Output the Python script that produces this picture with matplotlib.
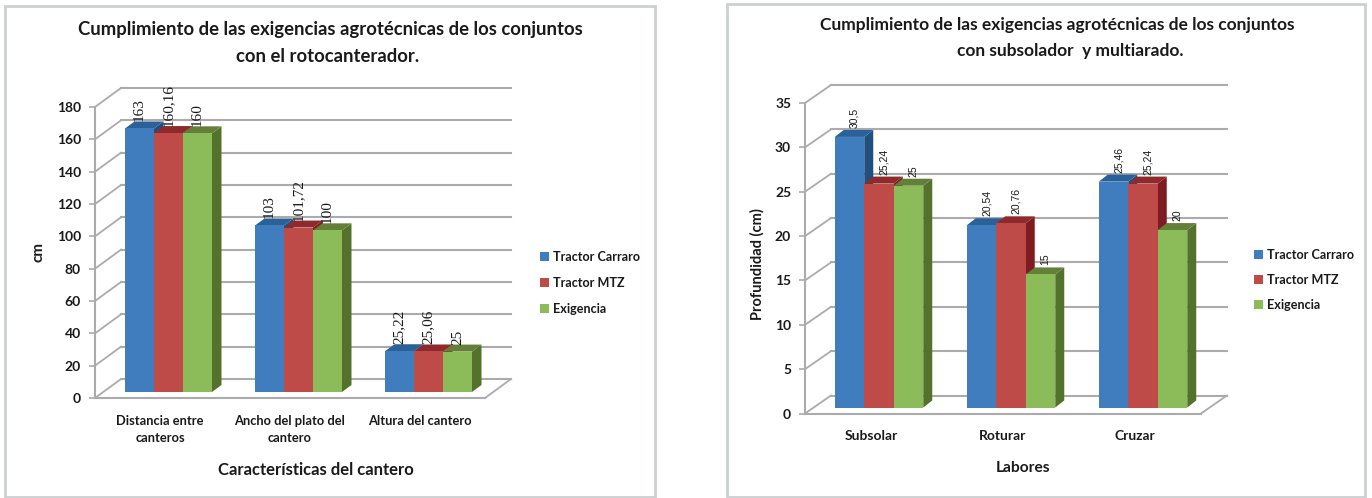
import matplotlib
matplotlib.use("Agg")
import matplotlib.pyplot as plt
from matplotlib.patches import Polygon, Rectangle

W, H = 1372, 498

series_names = ["Tractor Carraro", "Tractor MTZ", "Exigencia"]

left_categories = ["Distancia entre\ncanteros", "Ancho del plato del\ncantero", "Altura del cantero"]
left_carraro = [163, 103, 25.22]
left_mtz = [160.16, 101.72, 25.06]
left_exigencia = [160, 100, 25]
left_ticks = [0, 20, 40, 60, 80, 100, 120, 140, 160, 180]

right_categories = ["Subsolar", "Roturar", "Cruzar"]
right_carraro = [30.5, 20.54, 25.46]
right_mtz = [25.24, 20.76, 25.24]
right_exigencia = [25, 15, 20]
right_ticks = [0, 5, 10, 15, 20, 25, 30, 35]

front_colors = ["#407DBF", "#BF4B48", "#8CBB59"]
side_colors = ["#1F5080", "#7E1C22", "#55722D"]
top_colors = ["#2A6199", "#8E2A2C", "#648038"]
GRID = "#ABABAB"
TEXT = "#1A1A1A"
FONT = "Lato"

fig = plt.figure(figsize=(W / 100, H / 100), dpi=100, facecolor="white")


def panel(x0, y0, x1, y1):
    fig.add_artist(Rectangle((x0 / W, 1 - y1 / H), (x1 - x0) / W, (y1 - y0) / H,
                             transform=fig.transFigure, fill=False,
                             edgecolor="#CDD0D0", linewidth=2.0))


def fig_text(x, y, s, **kw):
    fig.text(x / W, 1 - y / H, s, ha="center", va="center", family=FONT,
             color=TEXT, **kw)


def chart(box, ymax, ticks, categories, series, wall, shift, depth, bar_w,
          label_font, label_size, label_dx, label_dy, cat_size, cat_pad,
          legend_xy, legend_gap, xlabel, xlabel_xy, xlabel_size,
          ylabel, ylabel_xy, ylabel_size):
    x0, y_top, x1, y0 = box
    ax = fig.add_axes([x0 / W, 1 - y0 / H, (x1 - x0) / W, (y0 - y_top) / H])
    ax.set_xlim(-0.5, 2.5)
    ax.set_ylim(0, ymax)
    ax.patch.set_alpha(0)
    px = 3 / (x1 - x0)
    py = ymax / (y0 - y_top)
    wx, wy = wall[0] * px, wall[1] * py
    dx, dy = depth[0] * px, depth[1] * py
    sx, sy = shift[0] * px, shift[1] * py
    w = bar_w * px

    # back wall, floor and their connecting lines
    for t in ticks:
        ax.plot([-0.5, -0.5 + wx], [t, t + wy], color=GRID, lw=1.3, clip_on=False, zorder=1)
        ax.plot([-0.5 + wx, 2.5 + wx], [t + wy, t + wy], color=GRID, lw=1.5, clip_on=False, zorder=1)
    ax.plot([2.5, 2.5 + wx], [0, wy], color=GRID, lw=1.3, clip_on=False, zorder=1)

    handles = []
    for s, values in enumerate(series):
        for c, v in enumerate(values):
            left = c - 1.5 * w + s * w + sx
            right = left + w
            top = sy + v
            z = 3 + s + c * 0.01
            ax.add_patch(Polygon([(right, sy), (right + dx, sy + dy), (right + dx, top + dy), (right, top)],
                                 facecolor=side_colors[s], edgecolor="none", clip_on=False, zorder=z))
            ax.add_patch(Polygon([(left, top), (left + dx, top + dy), (right + dx, top + dy), (right, top)],
                                 facecolor=top_colors[s], edgecolor="none", clip_on=False, zorder=z))
        centers = [c - 1.5 * w + s * w + sx + w / 2 for c in range(3)]
        bars = ax.bar(centers, values, width=w, bottom=sy, color=front_colors[s],
                      label=series_names[s], clip_on=False, zorder=3.5 + s)
        handles.append(bars[0])
    for s, values in enumerate(series):
        for c, v in enumerate(values):
            xc = c - 1.5 * w + s * w + sx + w / 2 + label_dx * px
            ax.text(xc, sy + v + label_dy * py, f"{v:g}".replace(".", ","), rotation=90,
                    ha="center", va="bottom", family=label_font, fontsize=label_size,
                    color=TEXT, zorder=10, clip_on=False)

    for name in ("top", "right"):
        ax.spines[name].set_visible(False)
    for name in ("left", "bottom"):
        ax.spines[name].set_color(GRID)
        ax.spines[name].set_linewidth(1.5)
    ax.set_yticks(ticks)
    ax.set_xticks(range(3))
    ax.set_xticklabels(categories, family=FONT, fontsize=cat_size, fontweight="bold", color=TEXT, linespacing=1.5)
    ax.set_yticklabels([str(t) for t in ticks], family=FONT, fontsize=10, fontweight="bold", color=TEXT)
    ax.tick_params(axis="x", length=0, pad=cat_pad)
    ax.tick_params(axis="y", length=4, width=1.2, color=GRID, pad=6)

    ax.set_xlabel(xlabel, family=FONT, fontsize=xlabel_size, fontweight="bold", color=TEXT, va="center")
    ax.xaxis.set_label_coords((xlabel_xy[0] - x0) / (x1 - x0), (y0 - xlabel_xy[1]) / (y0 - y_top))
    ax.set_ylabel(ylabel, family=FONT, fontsize=ylabel_size, fontweight="bold", color=TEXT, va="center")
    ax.yaxis.set_label_coords((ylabel_xy[0] - x0) / (x1 - x0), (y0 - ylabel_xy[1]) / (y0 - y_top))

    lx, ly = legend_xy
    fig.legend(handles=handles, labels=series_names, loc="center left",
               bbox_to_anchor=(lx / W, 1 - ly / H), frameon=False,
               prop={"family": FONT, "size": 9.1, "weight": "bold"},
               handlelength=0.75, handleheight=0.75, handletextpad=0.3,
               labelspacing=legend_gap, borderpad=0, borderaxespad=0,
               labelcolor=TEXT)
    return ax


panel(5, 6, 655, 496.5)
panel(727, 4, 1365, 497)

chart((95, 107, 485, 398), 180, left_ticks, left_categories,
      [left_carraro, left_mtz, left_exigencia], wall=(26, 19), shift=(8.5, 6),
      depth=(9.5, 7), bar_w=29, label_font="Liberation Serif", label_size=11,
      label_dx=0, label_dy=7, cat_size=9.3, cat_pad=12,
      legend_xy=(540, 283), legend_gap=1.1,
      xlabel="Características del cantero", xlabel_xy=(316, 470), xlabel_size=12,
      ylabel="cm", ylabel_xy=(38, 252), ylabel_size=11)

chart((805, 103, 1201, 413.5), 35, right_ticks, right_categories,
      [right_carraro, right_mtz, right_exigencia], wall=(26, 18), shift=(8, 6),
      depth=(9, 7), bar_w=29.5, label_font="Liberation Sans", label_size=7.5,
      label_dx=5, label_dy=9, cat_size=10, cat_pad=12,
      legend_xy=(1254, 280), legend_gap=1.05,
      xlabel="Labores", xlabel_xy=(1023, 468), xlabel_size=11.2,
      ylabel="Profundidad (cm)", ylabel_xy=(757, 264), ylabel_size=10.5)

fig_text(330, 30, "Cumplimiento de las exigencias agrotécnicas de los conjuntos", fontsize=13.3, fontweight="bold")
fig_text(328, 57, "con el rotocanterador.", fontsize=13.3, fontweight="bold")
fig_text(1057, 25, "Cumplimiento de las exigencias agrotécnicas de los conjuntos", fontsize=12.5, fontweight="bold")
fig_text(1070, 51, "con subsolador  y multiarado.", fontsize=12.5, fontweight="bold")

fig.savefig("out.png", dpi=100, facecolor="white")
